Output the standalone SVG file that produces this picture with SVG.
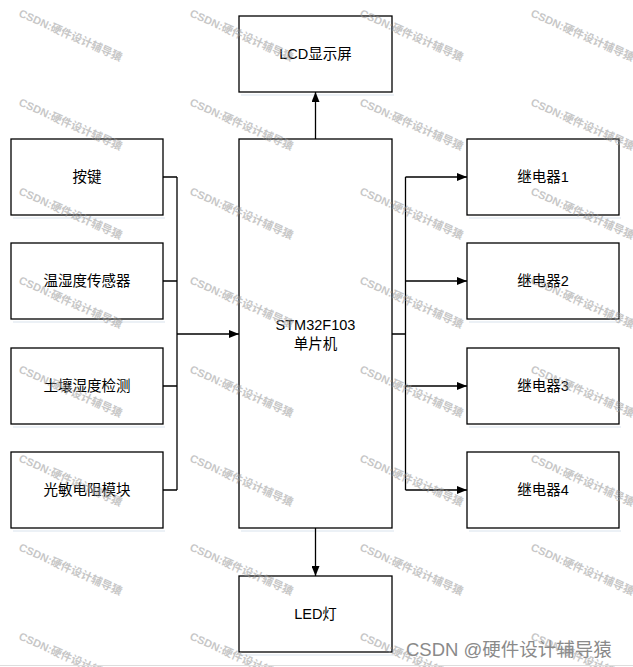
<svg xmlns="http://www.w3.org/2000/svg" width="633" height="667" viewBox="0 0 633 667">
<style>
.box{fill:#fff;stroke:#000;stroke-width:1.3}
.sh{fill:#dfe7f0;opacity:.6}
.lbl{font-family:"Liberation Sans","Noto Sans CJK SC",sans-serif;font-size:14.5px;fill:#000;text-anchor:middle}
.ln{fill:none;stroke:#000;stroke-width:1.3}
.wm{font-family:"Liberation Sans","Noto Sans CJK SC",sans-serif;font-size:11px;font-weight:bold;fill:#9a9a9a;opacity:.55}
</style>
<defs>
<marker id="ah" markerWidth="10" markerHeight="8" refX="10" refY="4" orient="auto" markerUnits="userSpaceOnUse">
<path d="M0,0 L10,4 L0,8 Z" fill="#000"/>
</marker>
<g id="wmt"><text class="wm" x="0" y="0" transform="rotate(24)">CSDN:硬件设计辅导猿</text></g>
</defs>
<rect width="633" height="667" fill="#fff"/>

<g id="shadows">
<rect class="sh" x="13" y="217" width="152" height="2"/>
<rect class="sh" x="13" y="321" width="152" height="2"/>
<rect class="sh" x="13" y="426" width="152" height="2"/>
<rect class="sh" x="13" y="530" width="152" height="2"/>
<rect class="sh" x="241" y="94" width="153" height="2"/>
<rect class="sh" x="241" y="530" width="153" height="2"/>
<rect class="sh" x="241" y="654" width="153" height="2"/>
<rect class="sh" x="469" y="217" width="152" height="2"/>
<rect class="sh" x="469" y="321" width="152" height="2"/>
<rect class="sh" x="469" y="426" width="152" height="2"/>
<rect class="sh" x="469" y="530" width="152" height="2"/>
</g>

<g id="lcd"><rect class="box" x="239" y="16" width="153" height="76"/><text class="lbl" x="315.5" y="59">LCD显示屏</text></g>
<g id="mcu"><rect class="box" x="239" y="139" width="153" height="389"/><text class="lbl" x="315.5" y="330">STM32F103</text><text class="lbl" x="315.5" y="349">单片机</text></g>
<g id="led"><rect class="box" x="239" y="576" width="153" height="76"/><text class="lbl" x="315.5" y="619">LED灯</text></g>

<g id="key"><rect class="box" x="11" y="139" width="152" height="76"/><text class="lbl" x="87" y="182">按键</text></g>
<g id="temp"><rect class="box" x="11" y="243" width="152" height="76"/><text class="lbl" x="87" y="286">温湿度传感器</text></g>
<g id="soil"><rect class="box" x="11" y="348" width="152" height="76"/><text class="lbl" x="87" y="391">土壤湿度检测</text></g>
<g id="ldr"><rect class="box" x="11" y="452" width="152" height="76"/><text class="lbl" x="87" y="495">光敏电阻模块</text></g>

<g id="relay1"><rect class="box" x="467" y="139" width="152" height="76"/><text class="lbl" x="543" y="182">继电器1</text></g>
<g id="relay2"><rect class="box" x="467" y="243" width="152" height="76"/><text class="lbl" x="543" y="286">继电器2</text></g>
<g id="relay3"><rect class="box" x="467" y="348" width="152" height="76"/><text class="lbl" x="543" y="391">继电器3</text></g>
<g id="relay4"><rect class="box" x="467" y="452" width="152" height="76"/><text class="lbl" x="543" y="495">继电器4</text></g>

<g id="connectors">
<path class="ln" d="M315.5,139 V92" marker-end="url(#ah)"/>
<path class="ln" d="M315.5,528 V576" marker-end="url(#ah)"/>
<path class="ln" d="M163,177 H177 M163,281 H177 M163,386 H177 M163,490 H177 M177,177 V490"/>
<path class="ln" d="M177,334 H239" marker-end="url(#ah)"/>
<path class="ln" d="M392,334 H405.5 M405.5,177 V490"/>
<path class="ln" d="M405.5,177 H467" marker-end="url(#ah)"/>
<path class="ln" d="M405.5,281 H467" marker-end="url(#ah)"/>
<path class="ln" d="M405.5,386 H467" marker-end="url(#ah)"/>
<path class="ln" d="M405.5,490 H467" marker-end="url(#ah)"/>
</g>

<g id="watermarks">
<use href="#wmt" x="18" y="16"/><use href="#wmt" x="189" y="16"/><use href="#wmt" x="359" y="16"/><use href="#wmt" x="530" y="16"/>
<use href="#wmt" x="18" y="105"/><use href="#wmt" x="189" y="105"/><use href="#wmt" x="359" y="105"/><use href="#wmt" x="530" y="105"/>
<use href="#wmt" x="18" y="194"/><use href="#wmt" x="189" y="194"/><use href="#wmt" x="359" y="194"/><use href="#wmt" x="530" y="194"/>
<use href="#wmt" x="18" y="283"/><use href="#wmt" x="189" y="283"/><use href="#wmt" x="359" y="283"/><use href="#wmt" x="530" y="283"/>
<use href="#wmt" x="18" y="372"/><use href="#wmt" x="189" y="372"/><use href="#wmt" x="359" y="372"/><use href="#wmt" x="530" y="372"/>
<use href="#wmt" x="18" y="461"/><use href="#wmt" x="189" y="461"/><use href="#wmt" x="359" y="461"/><use href="#wmt" x="530" y="461"/>
<use href="#wmt" x="18" y="550"/><use href="#wmt" x="189" y="550"/><use href="#wmt" x="359" y="550"/><use href="#wmt" x="530" y="550"/>
<use href="#wmt" x="18" y="639"/><use href="#wmt" x="189" y="639"/><use href="#wmt" x="359" y="639"/><use href="#wmt" x="530" y="639"/>
</g>
<text x="406" y="656" style="font-family:'Liberation Sans','Noto Sans CJK SC',sans-serif;font-size:18.5px;fill:#8a8a8a">CSDN @硬件设计辅导猿</text>
<line x1="0" y1="665.5" x2="633" y2="665.5" stroke="#ddd" stroke-width="1"/>
</svg>
